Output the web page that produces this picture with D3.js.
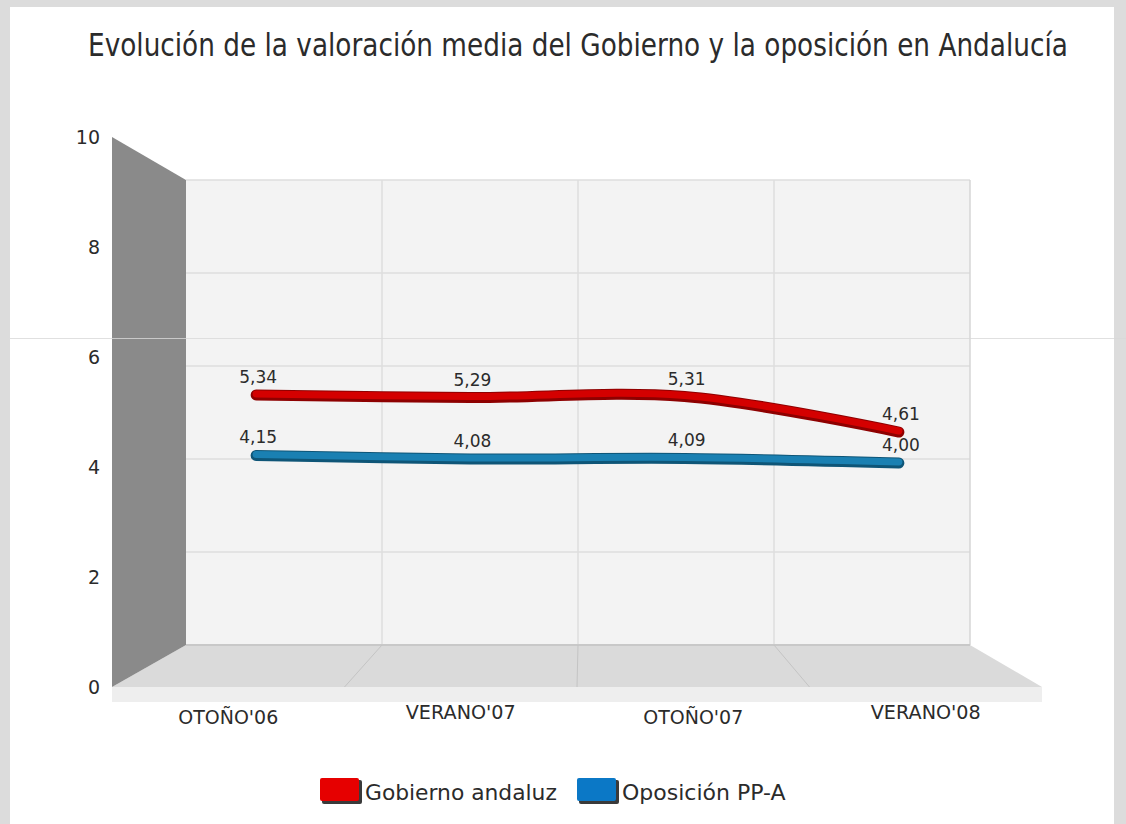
<html>
<head>
    <title> Valoracion media Andalucia </title>
    <script src="https://cdnjs.cloudflare.com/ajax/libs/d3/7.8.5/d3.min.js"></script>
    <style type="text/css">
        body {
            margin: 0;
            background-color: white;
        }
        text {
            font-family: "DejaVu Sans", Verdana, sans-serif;
            fill: #2b2b2b;
        }
    </style>
</head>
<body>
    <script>
        var w = 1126;
        var h = 824;

        var categories = ["OTOÑO'06", "VERANO'07", "OTOÑO'07", "VERANO'08"];
        var gobierno = [5.34, 5.29, 5.31, 4.61];
        var oposicion = [4.15, 4.08, 4.09, 4.00];
        var gobiernoLabels = ["5,34", "5,29", "5,31", "4,61"];
        var oposicionLabels = ["4,15", "4,08", "4,09", "4,00"];
        var yTicks = [0, 2, 4, 6, 8, 10];

        var svg = d3.select("body")
            .append("svg")
            .attr("width", w)
            .attr("height", h);

        // squeeze a text horizontally so it spans "width" px from x
        function squeeze(sel, x, width) {
            var len = sel.node().getComputedTextLength();
            var k = Math.min(1, width / len);
            sel.attr("x", 0).attr("transform", "translate(" + x + ",0) scale(" + k + ",1)");
        }

        // outer frame
        svg.append("rect").attr("width", w).attr("height", h).attr("fill", "#dcdcdc");
        svg.append("rect").attr("x", 10).attr("y", 7).attr("width", 1104).attr("height", h - 7).attr("fill", "white");

        // front, middle and back planes of the 3d box
        var yFront = d3.scaleLinear().domain([0, 10]).range([687, 137]);
        var yBack = d3.scaleLinear().domain([0, 10]).range([645, 180]);
        var yMid = d3.scaleLinear().domain([0, 10]).range([666, 158.5]);
        var xFront = d3.scaleBand().domain(categories).range([112, 1042]);
        var xBack = d3.scaleBand().domain(categories).range([186, 970]);
        var xMid = d3.scaleBand().domain(categories).range([149, 1006]);

        // back wall
        svg.append("rect")
            .attr("x", xBack.range()[0])
            .attr("y", yBack(10))
            .attr("width", xBack.range()[1] - xBack.range()[0])
            .attr("height", yBack(0) - yBack(10))
            .attr("fill", "#f3f3f3");

        svg.selectAll("line.hgrid")
            .data(yTicks.slice(1))
            .enter()
            .append("line")
            .attr("class", "hgrid")
            .attr("x1", xBack.range()[0])
            .attr("x2", xBack.range()[1])
            .attr("y1", function(d) { return yBack(d); })
            .attr("y2", function(d) { return yBack(d); })
            .attr("stroke", "#dedede")
            .attr("stroke-width", 1.5);

        svg.selectAll("line.vgrid")
            .data(categories.slice(1))
            .enter()
            .append("line")
            .attr("class", "vgrid")
            .attr("x1", function(d) { return xBack(d); })
            .attr("x2", function(d) { return xBack(d); })
            .attr("y1", yBack(10))
            .attr("y2", yBack(0))
            .attr("stroke", "#dedede")
            .attr("stroke-width", 1.5);

        svg.append("line")
            .attr("x1", xBack.range()[1])
            .attr("x2", xBack.range()[1])
            .attr("y1", yBack(10))
            .attr("y2", yBack(0))
            .attr("stroke", "#d6d6d6")
            .attr("stroke-width", 1.5);

        // floor
        svg.append("polygon")
            .attr("points", [
                [xBack.range()[0], yBack(0)], [xBack.range()[1], yBack(0)],
                [xFront.range()[1], yFront(0)], [xFront.range()[0], yFront(0)]
            ].join(" "))
            .attr("fill", "#dadada");

        svg.append("line")
            .attr("x1", xBack.range()[0])
            .attr("x2", xBack.range()[1])
            .attr("y1", yBack(0))
            .attr("y2", yBack(0))
            .attr("stroke", "#c8c8c8")
            .attr("stroke-width", 2);

        svg.selectAll("line.fgrid")
            .data(categories.slice(1))
            .enter()
            .append("line")
            .attr("class", "fgrid")
            .attr("x1", function(d) { return xBack(d); })
            .attr("x2", function(d) { return xFront(d); })
            .attr("y1", yBack(0))
            .attr("y2", yFront(0))
            .attr("stroke", "#c4c4c4")
            .attr("stroke-width", 1);

        svg.append("rect")
            .attr("x", xFront.range()[0])
            .attr("y", yFront(0))
            .attr("width", xFront.range()[1] - xFront.range()[0])
            .attr("height", 15)
            .attr("fill", "#eeeeee");

        // left wall
        svg.append("polygon")
            .attr("points", [
                [xFront.range()[0], yFront(10)], [xBack.range()[0], yBack(10)],
                [xBack.range()[0], yBack(0)], [xFront.range()[0], yFront(0)]
            ].join(" "))
            .attr("fill", "#8a8a8a");

        // faint line crossing the picture
        svg.append("line")
            .attr("x1", 10).attr("x2", w)
            .attr("y1", 338.5).attr("y2", 338.5)
            .attr("stroke", "#d8d8d8")
            .attr("stroke-opacity", 0.8)
            .attr("stroke-width", 1);

        // y labels
        svg.selectAll("text.ytick")
            .data(yTicks)
            .enter()
            .append("text")
            .attr("class", "ytick")
            .attr("x", 100)
            .attr("y", function(d) { return yFront(d) + 7; })
            .attr("text-anchor", "end")
            .attr("font-size", "19px")
            .text(function(d) { return d; });

        // x labels
        svg.selectAll("text.xtick")
            .data(categories)
            .enter()
            .append("text")
            .attr("class", "xtick")
            .attr("x", function(d) { return xFront(d) + xFront.bandwidth() / 2; })
            .attr("y", function(d, i) { return i % 2 == 0 ? 724 : 719; })
            .attr("text-anchor", "middle")
            .attr("font-size", "19px")
            .attr("textLength", function(d) { return d.indexOf("VERANO") == 0 ? 110 : 100; })
            .attr("lengthAdjust", "spacingAndGlyphs")
            .text(function(d) { return d; });

        // lines
        var line = d3.line()
            .x(function(d, i) { return xMid(categories[i]) + xMid.bandwidth() / 2; })
            .y(function(d) { return yMid(d); })
            .curve(d3.curveCatmullRom.alpha(0.5));

        var series = [
            { values: gobierno, labels: gobiernoLabels, dark: "#8e0000", main: "#d40000" },
            { values: oposicion, labels: oposicionLabels, dark: "#0e5577", main: "#1a80b2" }
        ];

        series.forEach(function(s) {
            svg.append("path")
                .attr("d", line(s.values))
                .attr("fill", "none")
                .attr("stroke", s.dark)
                .attr("stroke-width", 11)
                .attr("stroke-linecap", "round");
            svg.append("path")
                .attr("d", line(s.values))
                .attr("transform", "translate(0,-1)")
                .attr("fill", "none")
                .attr("stroke", s.main)
                .attr("stroke-width", 7)
                .attr("stroke-linecap", "round");

            svg.selectAll(null)
                .data(s.values)
                .enter()
                .append("text")
                .attr("x", function(d, i) { return xMid(categories[i]) + xMid.bandwidth() / 2 + 2; })
                .attr("y", function(d) { return yMid(d) - 12; })
                .attr("text-anchor", "middle")
                .attr("font-size", "17px")
                .attr("fill", "#333")
                .text(function(d, i) { return s.labels[i]; });
        });

        // title
        var title = svg.append("text")
            .attr("y", 56)
            .attr("font-size", "32px")
            .attr("fill", "#1a1a1a")
            .text("Evolución de la valoración media del Gobierno y la oposición en Andalucía");
        squeeze(title, 88, 980);

        // legend
        var legend = [
            { name: "Gobierno andaluz", color: "#e60000", x: 320, len: 192 },
            { name: "Oposición PP-A", color: "#0b78c6", x: 577, len: 166 }
        ];
        legend.forEach(function(l) {
            svg.append("rect")
                .attr("x", l.x + 2).attr("y", 780)
                .attr("width", 40).attr("height", 24)
                .attr("rx", 2)
                .attr("fill", "#3a3a3a");
            svg.append("rect")
                .attr("x", l.x).attr("y", 778)
                .attr("width", 39).attr("height", 23)
                .attr("rx", 2)
                .attr("fill", l.color);
            var t = svg.append("text")
                .attr("y", 800)
                .attr("font-size", "22px")
                .attr("fill", "#333")
                .text(l.name);
            squeeze(t, l.x + 45, l.len);
        });
    </script>
</body>
</html>
